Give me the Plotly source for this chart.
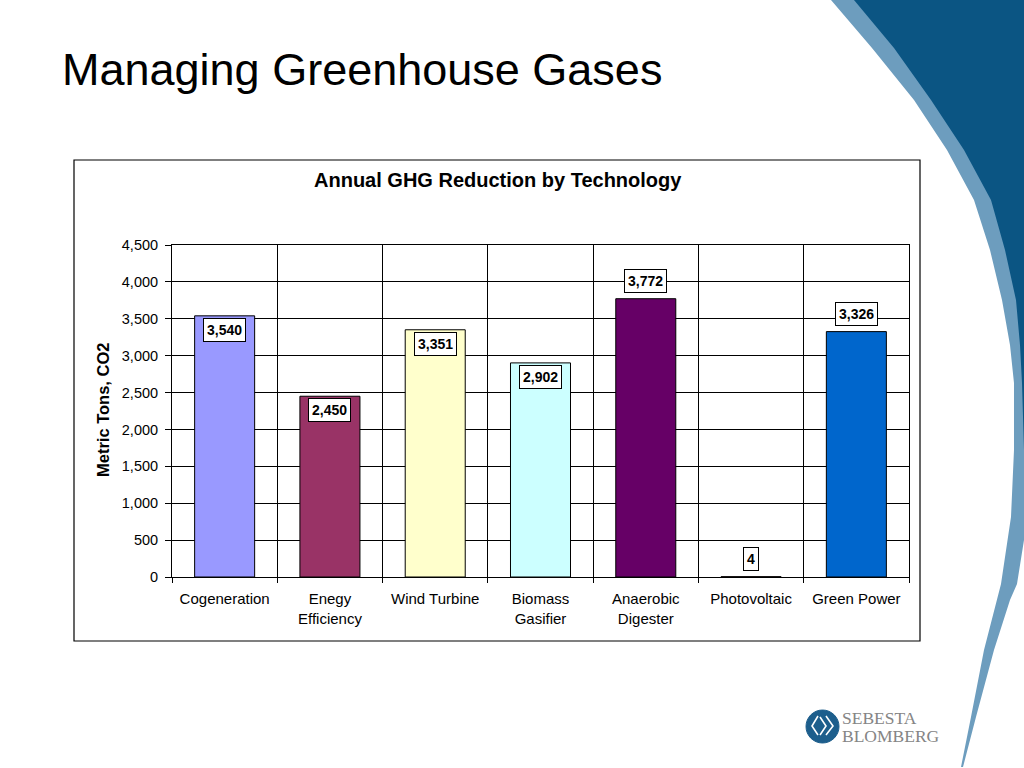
import plotly.graph_objects as go

# ---------------- data ----------------
categories = ["Cogeneration", "Enegy<br>Efficiency", "Wind Turbine", "Biomass<br>Gasifier",
              "Anaerobic<br>Digester", "Photovoltaic", "Green Power"]
values = [3540, 2450, 3351, 2902, 3772, 4, 3326]
y_ticks = [0, 500, 1000, 1500, 2000, 2500, 3000, 3500, 4000, 4500]

slide_title = "Managing Greenhouse Gases"
chart_title = "Annual GHG Reduction by Technology"
y_title = "Metric Tons, CO2"

# ---------------- style ----------------
bar_colors = ["#9999FF", "#993366", "#FFFFCC", "#CCFFFF", "#660066", "#FF8080", "#0066CC"]
label_inside = [True, True, True, True, False, False, False]
FONT = "Liberation Sans, Arial, Helvetica, sans-serif"
SERIF = "Liberation Serif, DejaVu Serif, serif"
W, H = 1024, 768


def px(x):
    return x / W


def py(y):
    return 1 - y / H


def path_from(points):
    s = "M " + " L ".join(f"{px(x):.5f},{py(y):.5f}" for x, y in points)
    return s + " Z"


fig = go.Figure()
fig.add_trace(go.Bar(
    x=categories, y=values,
    marker=dict(color=bar_colors, line=dict(color="black", width=1)),
    width=0.57, hoverinfo="x+y", showlegend=False,
))

annotations = []
for c, v, inside in zip(categories, values, label_inside):
    annotations.append(dict(
        x=c, y=v, xref="x", yref="y", text=f"<b>{v:,}</b>", showarrow=False,
        yanchor="top" if inside else "bottom", yshift=-2 if inside else 6,
        font=dict(family=FONT, size=14, color="black"),
        bgcolor="white", bordercolor="black", borderwidth=1, borderpad=3,
    ))

# slide title
annotations.append(dict(x=px(60), y=py(69), xref="paper", yref="paper", xanchor="left",
                        yanchor="middle", text=slide_title, showarrow=False,
                        font=dict(family=FONT, size=45, color="black")))
# chart title
annotations.append(dict(x=px(498), y=py(180), xref="paper", yref="paper", xanchor="center",
                        yanchor="middle", text=f"<b>{chart_title}</b>", showarrow=False,
                        font=dict(family=FONT, size=20, color="black")))
# y axis title
annotations.append(dict(x=px(103), y=py(410), xref="paper", yref="paper", xanchor="center",
                        yanchor="middle", text=f"<b>{y_title}</b>", showarrow=False,
                        textangle=-90, font=dict(family=FONT, size=16.5, color="black")))
# logo text
annotations.append(dict(x=px(840), y=py(718), xref="paper", yref="paper", xanchor="left",
                        yanchor="middle", text="SEBESTA", showarrow=False,
                        font=dict(family=SERIF, size=17.5, color="#858585")))
annotations.append(dict(x=px(840), y=py(736), xref="paper", yref="paper", xanchor="left",
                        yanchor="middle", text="BLOMBERG", showarrow=False,
                        font=dict(family=SERIF, size=17.5, color="#858585")))

shapes = []
# decorative swoosh: light band then dark region
light = [(831, 0), (872, 48), (914, 100), (947, 150), (974, 200), (990, 250), (1002, 300),
         (1010, 345), (1014, 383), (1014, 450), (1011, 517), (1001, 584), (984, 650),
         (971, 717), (961, 767), (963, 767), (976, 717), (994, 650), (1010, 600),
         (1017, 584), (1024, 540), (1024, 0)]
dark = [(854, 0), (894, 48), (931, 100), (964, 150), (991, 200), (1005, 250), (1016, 300),
        (1020, 345), (1022, 383), (1024, 450), (1024, 0)]
shapes.append(dict(type="path", xref="paper", yref="paper", path=path_from(light),
                   fillcolor="#6D9DBE", line=dict(width=0), layer="below"))
shapes.append(dict(type="path", xref="paper", yref="paper", path=path_from(dark),
                   fillcolor="#0B5583", line=dict(width=0), layer="below"))
# chart frame
shapes.append(dict(type="rect", xref="paper", yref="paper", x0=px(74), y0=py(160), x1=px(920), y1=py(641),
                   line=dict(color="black", width=1.2), fillcolor="rgba(0,0,0,0)", layer="below"))
# logo circle
shapes.append(dict(type="circle", xref="paper", yref="paper", x0=px(806), y0=py(743), x1=px(839), y1=py(710),
                   fillcolor="#1D5E8C", line=dict(color="#1D5E8C", width=1)))
shapes.append(dict(type="path", xref="paper", yref="paper",
                   path=f"M {px(818)},{py(716)} L {px(812)},{py(726)} L {px(818)},{py(735)} "
                        f"M {px(820)},{py(717)} L {px(826)},{py(726)} L {px(820)},{py(735)} "
                        f"M {px(826)},{py(716)} L {px(833)},{py(726)} L {px(826)},{py(735)}",
                   line=dict(color="white", width=1.6)))

fig.update_layout(
    width=W, height=H,
    margin=dict(l=0, r=0, t=0, b=0, autoexpand=False),
    paper_bgcolor="white", plot_bgcolor="white",
    font=dict(family=FONT, size=14, color="black"),
    bargap=0.43,
    annotations=annotations, shapes=shapes,
    xaxis=dict(domain=[px(172), px(909)], type="category", tickson="boundaries",
               ticks="outside", ticklen=5, tickcolor="black", showgrid=True, gridcolor="black",
               gridwidth=1, showline=True, linecolor="black", linewidth=1, mirror=True,
               tickfont=dict(family=FONT, size=15, color="black"), ticklabelstandoff=8,
               automargin=False, fixedrange=True),
    yaxis=dict(domain=[py(577), py(245)], range=[0, 4500], tickvals=y_ticks,
               ticktext=[f"{t:,}" for t in y_ticks], ticks="outside", ticklen=6, tickcolor="black",
               showgrid=True, gridcolor="black", gridwidth=1, zeroline=False,
               showline=True, linecolor="black", linewidth=1, mirror=True,
               tickfont=dict(family=FONT, size=14.5, color="black"), ticklabelstandoff=4,
               automargin=False, fixedrange=True),
)

fig.write_html("out.html", config={"displayModeBar": False},
               post_script="document.body.style.margin='0px';document.body.style.overflow='hidden';")
